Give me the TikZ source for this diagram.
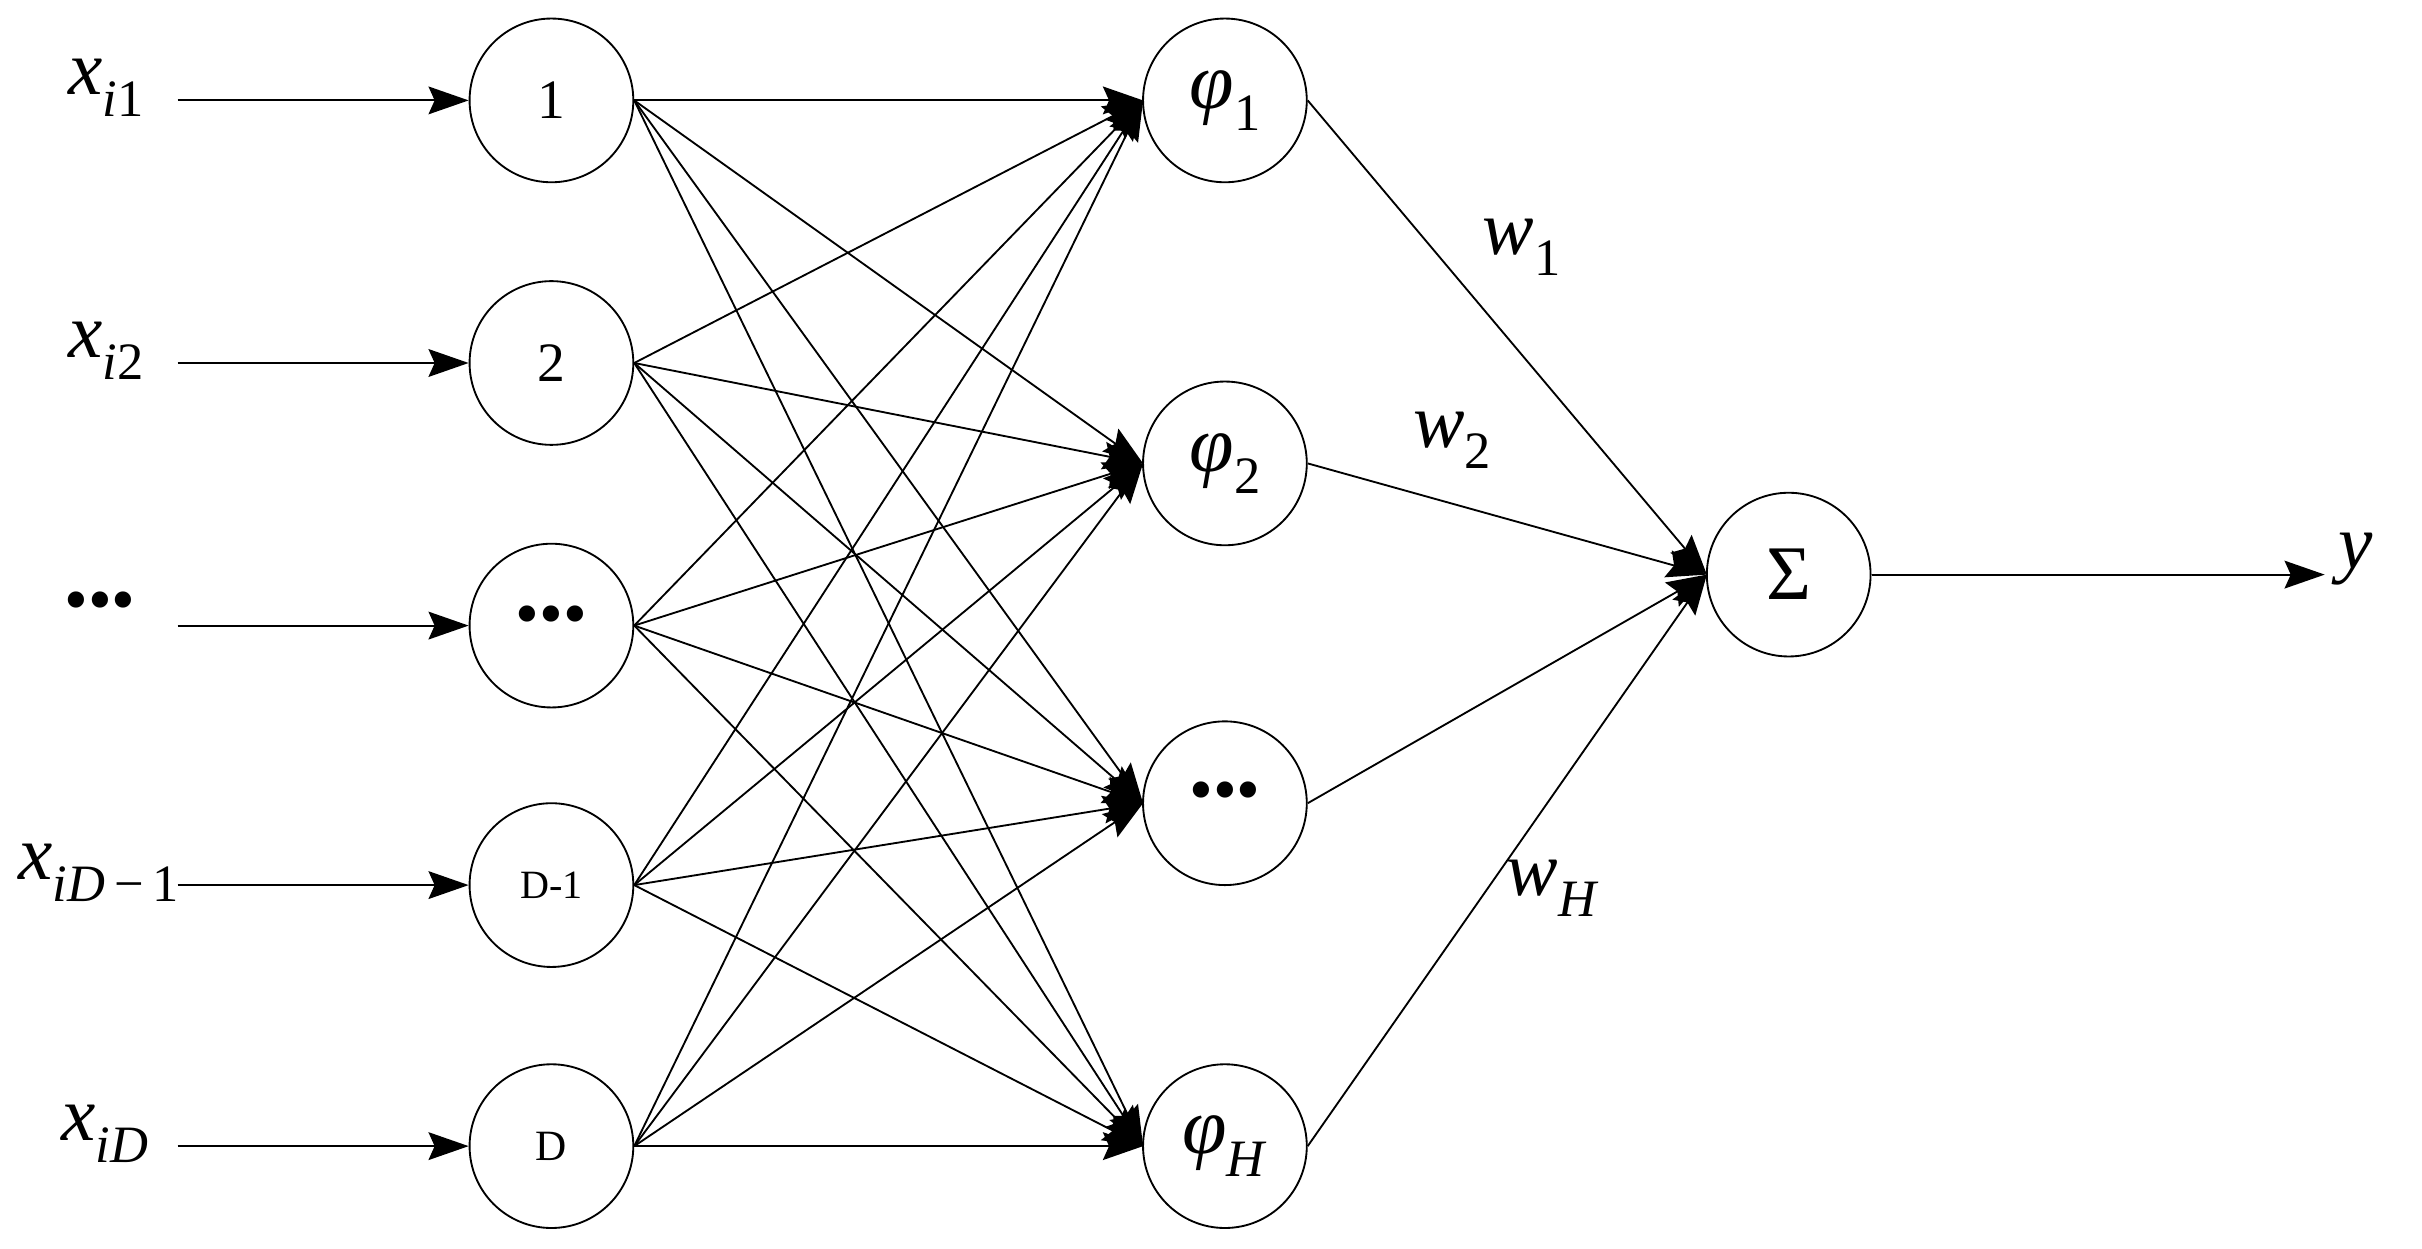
\documentclass[tikz,border=0pt]{standalone}
\usepackage{fontspec}
\setmainfont{Liberation Serif}
\usetikzlibrary{arrows.meta}
\newcommand\sbs[1]{\raisebox{-0.28em}{\fontsize{34}{36}\selectfont #1}}
\newcommand\dts{\raisebox{0.15em}{\fontsize{44}{46}\selectfont\textbullet\textbullet\textbullet}}
\begin{document}
\begin{tikzpicture}[x=1pt,y=1pt,
  neu/.style={circle,draw,line width=1.2pt,minimum size=106pt,inner sep=0pt},
  con/.style={line width=1.2pt},
  arr/.style={con,-{Stealth[length=26pt,width=18pt,inset=4pt]}},
  lab/.style={font=\fontsize{50}{54}\selectfont,inner sep=2pt}]
\useasboundingbox (0,0) rectangle (1568,-808);
\foreach \n/\y/\t in {1/65/1,2/235/2,3/405/{\dts},4/573/{\fontsize{26}{28}\selectfont D-1},5/742/{\fontsize{28}{30}\selectfont D}}
  \node[neu,font=\fontsize{36}{38}\selectfont] (i\n) at (357,-\y) {\t};
\foreach \n/\y/\t in {1/65/{\textit{φ}\sbs{1}},2/300/{\textit{φ}\sbs{2}},3/520/{\dts},4/742/{\textit{φ}\sbs{\textit{H}}}}{
  \node[neu,font=\fontsize{52}{54}\selectfont] (h\n) at (793,-\y) {\t};
  \coordinate (t\n) at (740,-\y);}
\node[neu,font=\fontsize{50}{52}\selectfont] (s) at (1158,-372) {Σ};
\coordinate (ts) at (1105,-372);
\foreach \n/\y/\x/\t in {1/65/95/{\textit{x}\sbs{\textit{i}1}},2/235/95/{\textit{x}\sbs{\textit{i}2}},3/405/90/{\dts},4/573/118/{\textit{x}\sbs{\textit{iD}\,−\,1}},5/742/98/{\textit{x}\sbs{\textit{iD}}}}{
  \node[lab,anchor=east] (l\n) at (\x,-\y+8) {\t};
  \draw[arr] (115,-\y) -- (i\n.west);}
\foreach \i in {1,...,5}\foreach \h in {1,...,4}
  \draw[arr] (i\i.east) -- (t\h);
\foreach \h in {1,...,4}
  \draw[arr] (h\h.east) -- (ts);
\coordinate (yo) at (1505,-372);
\draw[arr] (s.east) -- (yo);
\node[lab,anchor=west] (yl) at (1512,-362) {\textit{y}};
\node[lab] (w1) at (985,-160) {\textit{w}\sbs{1}};
\node[lab] (w2) at (940,-285) {\textit{w}\sbs{2}};
\node[lab] (wH) at (1005,-575) {\textit{w}\sbs{\textit{H}}};
\end{tikzpicture}
\end{document}
